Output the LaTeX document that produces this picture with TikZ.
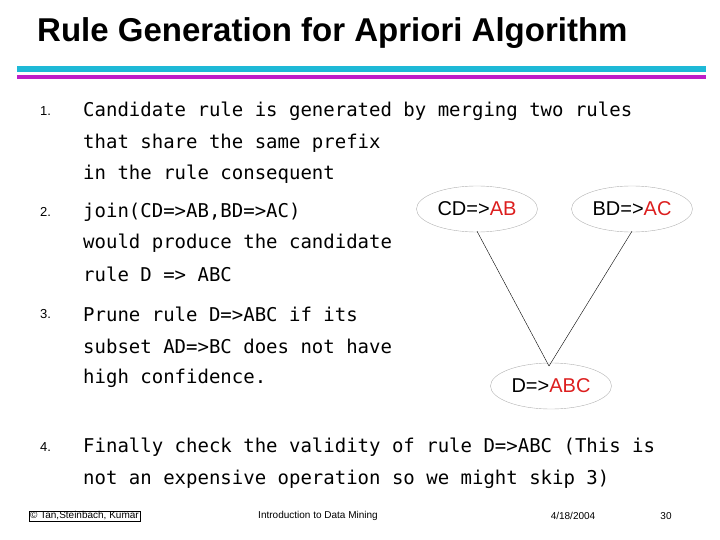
\documentclass[tikz,border=0pt]{standalone}
\usepackage{fontspec}
\setmainfont{DejaVu Sans Mono}
\newfontfamily\lib{Liberation Sans}
\definecolor{cyanbar}{RGB}{30,185,215}
\definecolor{magbar}{RGB}{190,30,200}
\definecolor{rred}{RGB}{220,30,30}
\usetikzlibrary{shapes.geometric}
\begin{document}
\begin{tikzpicture}[x=1pt,y=-1pt,
  body/.style={anchor=west,font=\fontsize{19}{23}\selectfont,inner sep=0},
  num/.style={anchor=west,font=\lib\fontsize{13}{15}\selectfont,inner sep=0},
  rule/.style={draw=gray!60,ellipse,minimum width=111,minimum height=46,font=\lib\fontsize{20}{24}\selectfont},
  foot/.style={font=\lib\fontsize{10}{12}\selectfont,inner sep=1}]
\useasboundingbox (0,0) rectangle (720,540);
\node[anchor=west,font=\lib\bfseries\fontsize{33}{38}\selectfont,inner sep=0] (title) at (37,33) {Rule Generation for Apriori Algorithm};
\fill[cyanbar] (17,66) rectangle (706,72);
\fill[magbar] (17,75) rectangle (706,79);
\node[num] (n1) at (40,111) {1.};
\node[body] (t1a) at (83,111) {Candidate rule is generated by merging two rules};
\node[body] (t1b) at (83,143) {that share the same prefix};
\node[body] (t1c) at (83,174) {in the rule consequent};
\node[num] (n2) at (40,212) {2.};
\node[body] (t2a) at (83,212) {join(CD=>AB,BD=>AC)};
\node[body] (t2b) at (83,243) {would produce the candidate};
\node[body] (t2c) at (83,274) {rule D => ABC};
\node[num] (n3) at (40,314) {3.};
\node[body] (t3a) at (83,314) {Prune rule D=>ABC if its};
\node[body] (t3b) at (83,346) {subset AD=>BC does not have};
\node[body] (t3c) at (83,378) {high confidence.};
\node[num] (n4) at (40,447) {4.};
\node[body] (t4a) at (83,447) {Finally check the validity of rule D=>ABC (This is};
\node[body] (t4b) at (83,479) {not an expensive operation so we might skip 3)};
\node[rule] (cd) at (477,209) {CD=>\textcolor{rred}{AB}};
\node[rule] (bd) at (632,209) {BD=>\textcolor{rred}{AC}};
\node[rule] (d) at (551,386) {D=>\textcolor{rred}{ABC}};
\coordinate (m) at (549,366);
\draw[thin] (cd.south) ++(0,-1) -- (m);
\draw[thin] (bd.south) ++(0,-1) -- (m);
\node[foot,draw=black,thin,anchor=west] (f1) at (29,516) {© Tan,Steinbach, Kumar};
\node[foot] (f2) at (318,516) {Introduction to Data Mining};
\node[foot] (f3) at (573,516) {4/18/2004};
\node[foot] (f4) at (666,516) {30};
\end{tikzpicture}
\end{document}
